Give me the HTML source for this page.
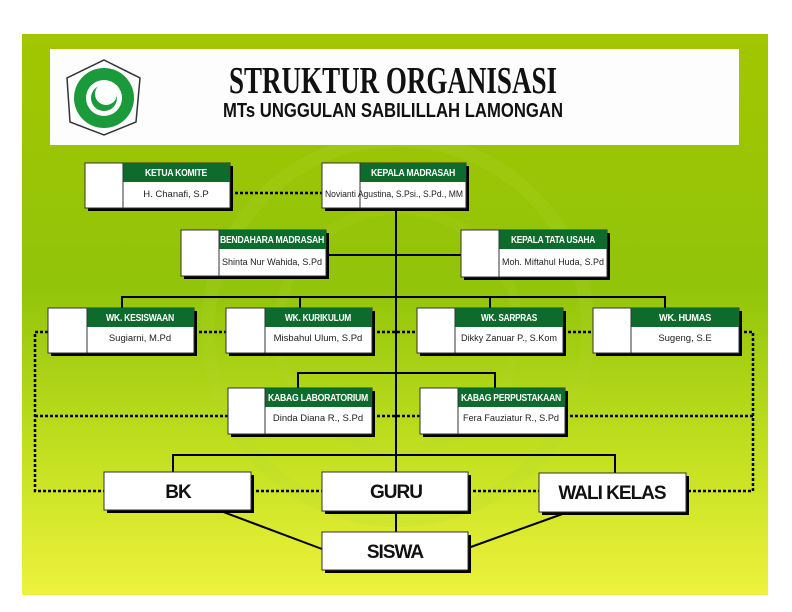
<!DOCTYPE html>
<html><head><meta charset="utf-8"><style>
html,body{margin:0;padding:0;background:#fff;}
svg{display:block}
.h{font-family:"Liberation Sans",sans-serif;font-weight:bold;fill:#fff;font-size:10px;letter-spacing:-0.3px}
.n{font-family:"Liberation Sans",sans-serif;fill:#222;font-size:9.5px}
.b{font-family:"Liberation Sans",sans-serif;font-weight:bold;fill:#111;font-size:19px;letter-spacing:-1px}
</style></head><body>
<svg width="792" height="612" viewBox="0 0 792 612" xmlns="http://www.w3.org/2000/svg">
<defs>
<linearGradient id="bg" x1="0" y1="0" x2="0" y2="1">
<stop offset="0" stop-color="#a2c600"/>
<stop offset="0.45" stop-color="#92c40a"/>
<stop offset="0.75" stop-color="#c2e020"/>
<stop offset="1" stop-color="#eef23c"/>
</linearGradient>
</defs>
<rect x="22" y="34" width="746" height="561" fill="url(#bg)"/>
<circle cx="398" cy="330" r="190" fill="none" stroke="#b4d83a" stroke-opacity="0.18" stroke-width="14"/>
<circle cx="398" cy="330" r="120" fill="none" stroke="#b4d83a" stroke-opacity="0.15" stroke-width="10"/>
<rect x="50" y="49" width="689" height="96" fill="#fdfdfd"/>
<g>
<path d="M104 60 L140 78 L136 122 L104 135 L70 122 L67 78 Z" fill="#fff" stroke="#333" stroke-width="1.5"/>
<circle cx="104" cy="98" r="30" fill="#1a9a3a"/>
<circle cx="104" cy="98" r="18" fill="#fff"/>
<circle cx="104" cy="98" r="13" fill="#1a9a3a"/>
<circle cx="106" cy="94" r="11" fill="#fff"/>
</g>
<text x="393" y="93" text-anchor="middle" font-family="'Liberation Serif',serif" font-weight="bold" font-size="38" fill="#111" textLength="328" lengthAdjust="spacingAndGlyphs">STRUKTUR ORGANISASI</text>
<text x="393" y="117" text-anchor="middle" font-family="'Liberation Sans',sans-serif" font-weight="bold" font-size="20" fill="#111" textLength="340" lengthAdjust="spacingAndGlyphs">MTs UNGGULAN SABILILLAH LAMONGAN</text>

<g stroke="#000" stroke-width="2" fill="none">
<line x1="396" y1="208" x2="396" y2="532"/>
<line x1="327" y1="255" x2="461" y2="255"/>
<polyline points="122,308 122,297 665,297 665,308"/>
<line x1="300" y1="297" x2="300" y2="308"/>
<line x1="490" y1="297" x2="490" y2="308"/>
<polyline points="298,388 298,373 495,373 495,388"/>
<polyline points="173,472 173,455 615,455 615,473"/>
<line x1="218" y1="510" x2="322" y2="549"/>
<line x1="568" y1="512" x2="468" y2="548"/>
</g>
<g stroke="#000" stroke-width="2.5" stroke-dasharray="3,2" fill="none">
<line x1="230" y1="193" x2="322" y2="193"/>
<polyline points="48,332 35,332 35,491 104,491"/>
<polyline points="739,332 753,332 753,491 686,491"/>
<line x1="194" y1="332" x2="226" y2="332"/>
<line x1="372" y1="332" x2="417" y2="332"/>
<line x1="563" y1="332" x2="593" y2="332"/>
<line x1="35" y1="416" x2="228" y2="416"/>
<line x1="372" y1="416" x2="420" y2="416"/>
<line x1="565" y1="416" x2="753" y2="416"/>
<line x1="251" y1="491" x2="322" y2="491"/>
<line x1="468" y1="491" x2="539" y2="491"/>
</g>

<rect x="88" y="166" width="145" height="45" fill="#000"/>
<rect x="85" y="163" width="145" height="45" fill="#fff" stroke="#333"/>
<rect x="123" y="163" width="107" height="19" fill="#0d6b2b"/>
<line x1="123" y1="163" x2="123" y2="208" stroke="#333"/>
<text class="h" x="176" y="176" text-anchor="middle" textLength="62" lengthAdjust="spacingAndGlyphs">KETUA KOMITE</text>
<text class="n" x="176" y="197" text-anchor="middle">H. Chanafi, S.P</text>

<rect x="325" y="166" width="144" height="45" fill="#000"/>
<rect x="322" y="163" width="144" height="45" fill="#fff" stroke="#333"/>
<rect x="360" y="163" width="106" height="19" fill="#0d6b2b"/>
<line x1="360" y1="163" x2="360" y2="208" stroke="#333"/>
<text class="h" x="413" y="176" text-anchor="middle" textLength="84" lengthAdjust="spacingAndGlyphs">KEPALA MADRASAH</text>
<text class="n" x="394" y="197" text-anchor="middle" font-size="9" textLength="138" lengthAdjust="spacingAndGlyphs">Novianti Agustina, S.Psi., S.Pd., MM</text>

<rect x="184" y="233" width="145" height="46" fill="#000"/>
<rect x="181" y="230" width="145" height="46" fill="#fff" stroke="#333"/>
<rect x="219" y="230" width="107" height="19" fill="#0d6b2b"/>
<line x1="219" y1="230" x2="219" y2="276" stroke="#333"/>
<text class="h" x="272" y="243" text-anchor="middle" textLength="104" lengthAdjust="spacingAndGlyphs">BENDAHARA MADRASAH</text>
<text class="n" x="272" y="265" text-anchor="middle" textLength="100" lengthAdjust="spacingAndGlyphs">Shinta Nur Wahida, S.Pd</text>

<rect x="464" y="233" width="146" height="47" fill="#000"/>
<rect x="461" y="230" width="146" height="47" fill="#fff" stroke="#333"/>
<rect x="499" y="230" width="108" height="19" fill="#0d6b2b"/>
<line x1="499" y1="230" x2="499" y2="277" stroke="#333"/>
<text class="h" x="553" y="243" text-anchor="middle" textLength="84" lengthAdjust="spacingAndGlyphs">KEPALA TATA USAHA</text>
<text class="n" x="553" y="265" text-anchor="middle" textLength="102" lengthAdjust="spacingAndGlyphs">Moh. Miftahul Huda, S.Pd</text>

<rect x="51" y="311" width="146" height="45" fill="#000"/>
<rect x="48" y="308" width="146" height="45" fill="#fff" stroke="#333"/>
<rect x="87" y="308" width="107" height="19" fill="#0d6b2b"/>
<line x1="87" y1="308" x2="87" y2="353" stroke="#333"/>
<text class="h" x="140" y="321" text-anchor="middle" textLength="68" lengthAdjust="spacingAndGlyphs">WK. KESISWAAN</text>
<text class="n" x="140" y="341" text-anchor="middle">Sugiarni, M.Pd</text>

<rect x="229" y="311" width="146" height="45" fill="#000"/>
<rect x="226" y="308" width="146" height="45" fill="#fff" stroke="#333"/>
<rect x="265" y="308" width="107" height="19" fill="#0d6b2b"/>
<line x1="265" y1="308" x2="265" y2="353" stroke="#333"/>
<text class="h" x="318" y="321" text-anchor="middle" textLength="66" lengthAdjust="spacingAndGlyphs">WK. KURIKULUM</text>
<text class="n" x="318" y="341" text-anchor="middle">Misbahul Ulum, S.Pd</text>

<rect x="420" y="311" width="146" height="45" fill="#000"/>
<rect x="417" y="308" width="146" height="45" fill="#fff" stroke="#333"/>
<rect x="455" y="308" width="108" height="19" fill="#0d6b2b"/>
<line x1="455" y1="308" x2="455" y2="353" stroke="#333"/>
<text class="h" x="509" y="321" text-anchor="middle" textLength="56" lengthAdjust="spacingAndGlyphs">WK. SARPRAS</text>
<text class="n" x="509" y="341" text-anchor="middle" textLength="96" lengthAdjust="spacingAndGlyphs">Dikky Zanuar P., S.Kom</text>

<rect x="596" y="311" width="146" height="45" fill="#000"/>
<rect x="593" y="308" width="146" height="45" fill="#fff" stroke="#333"/>
<rect x="631" y="308" width="108" height="19" fill="#0d6b2b"/>
<line x1="631" y1="308" x2="631" y2="353" stroke="#333"/>
<text class="h" x="685" y="321" text-anchor="middle" textLength="52" lengthAdjust="spacingAndGlyphs">WK. HUMAS</text>
<text class="n" x="685" y="341" text-anchor="middle">Sugeng, S.E</text>

<rect x="231" y="391" width="144" height="46" fill="#000"/>
<rect x="228" y="388" width="144" height="46" fill="#fff" stroke="#333"/>
<rect x="265" y="388" width="107" height="19" fill="#0d6b2b"/>
<line x1="265" y1="388" x2="265" y2="434" stroke="#333"/>
<text class="h" x="318" y="401" text-anchor="middle" textLength="100" lengthAdjust="spacingAndGlyphs">KABAG LABORATORIUM</text>
<text class="n" x="318" y="421" text-anchor="middle">Dinda Diana R., S.Pd</text>

<rect x="423" y="391" width="145" height="46" fill="#000"/>
<rect x="420" y="388" width="145" height="46" fill="#fff" stroke="#333"/>
<rect x="458" y="388" width="107" height="19" fill="#0d6b2b"/>
<line x1="458" y1="388" x2="458" y2="434" stroke="#333"/>
<text class="h" x="511" y="401" text-anchor="middle" textLength="100" lengthAdjust="spacingAndGlyphs">KABAG PERPUSTAKAAN</text>
<text class="n" x="511" y="421" text-anchor="middle" textLength="96" lengthAdjust="spacingAndGlyphs">Fera Fauziatur R., S.Pd</text>

<rect x="107" y="475" width="147" height="38" fill="#000"/>
<rect x="104" y="472" width="147" height="38" fill="#fff" stroke="#333"/>
<text class="b" x="178" y="498" text-anchor="middle">BK</text>

<rect x="325" y="475" width="146" height="39" fill="#000"/>
<rect x="322" y="472" width="146" height="39" fill="#fff" stroke="#333"/>
<text class="b" x="396" y="498" text-anchor="middle">GURU</text>

<rect x="542" y="476" width="147" height="39" fill="#000"/>
<rect x="539" y="473" width="147" height="39" fill="#fff" stroke="#333"/>
<text class="b" x="612" y="499" text-anchor="middle">WALI KELAS</text>

<rect x="325" y="535" width="146" height="38" fill="#000"/>
<rect x="322" y="532" width="146" height="38" fill="#fff" stroke="#333"/>
<text class="b" x="395" y="558" text-anchor="middle">SISWA</text>
</svg>
</body></html>
